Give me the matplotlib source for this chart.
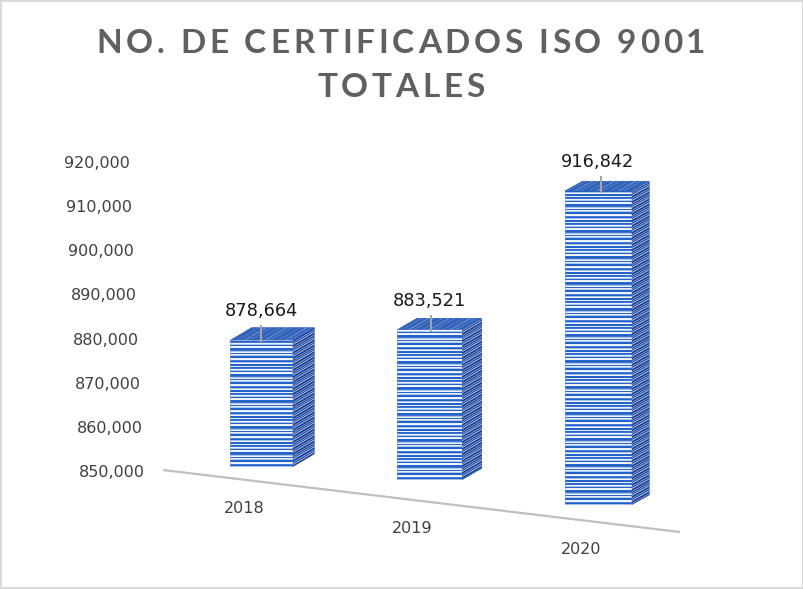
import matplotlib
matplotlib.use('Agg')
import matplotlib.pyplot as plt
from matplotlib.patches import Polygon, Rectangle
from matplotlib.collections import LineCollection
from matplotlib import font_manager
from matplotlib.font_manager import FontProperties
from matplotlib.ft2font import FT2Font
from matplotlib.transforms import ScaledTranslation

# data
years = ['2018', '2019', '2020']
certs = [878664, 883521, 916842]
y_ticks = [850000, 860000, 870000, 880000, 890000, 900000, 910000, 920000]
title_lines = ['NO. DE CERTIFICADOS ISO 9001', 'TOTALES']

W, H = 804, 589
PX_X = 168.5            # pixels per category step
PX_Y = 309 / 70000      # pixels per certificate on the value axis
BASE = 850000

fig = plt.figure(figsize=(W / 100, H / 100), dpi=100)
ax = fig.add_axes([150 / W, 0, 1 - 150 / W, 1])

# stripe textures, like the excel fill (one letter = one pixel row)
front_pal = {'D': '#1E60C6', 'M': '#3D78D6', 'L': '#AFC6EE', 'W': '#F2F6FC'}
front_pat = 'DDWLDMWWDDLWDWLMDDWWDLWMDW'
side_pal = {'N': '#14398C', 'D': '#1D4DA8', 'L': '#8FA5CF', 'W': '#C9D2E6'}
side_pat = 'NLNDWNLDNWDL'
top_pal = {'A': '#2C5BB3', 'B': '#3A69C0', 'C': '#5A86D0', 'E': '#7E9FDA'}
top_pat = 'ABABCABEABAC'


def textured(verts, base, pal, pat, slope=0.0, z=3):
    # slope: pixel rise per pixel to the right
    xs, ys = zip(*verts)
    x0, x1, y0, y1 = min(xs), max(xs), min(ys), max(ys)
    wpx = (x1 - x0) * PX_X
    hpx = (y1 - y0) * PX_Y
    poly = Polygon(verts, closed=True, fc=base, ec='none', zorder=z)
    ax.add_patch(poly)
    segs, cols = [], []
    k = 0
    start = -int(abs(slope) * wpx) - 2
    for off in range(start, int(hpx) + 3):
        ya = y0 + (off + 0.5) / PX_Y
        yb = ya + slope * wpx / PX_Y
        segs.append([(x0, ya), (x1, yb)])
        cols.append(pal[pat[k % len(pat)]])
        k += 1
    lc = LineCollection(segs, colors=cols, linewidths=0.78, zorder=z + 0.1)
    ax.add_collection(lc)
    lc.set_clip_path(poly)


def floor_px(xpx):
    return 470 + (532 - 470) / (680 - 163) * (xpx - 163)


def to_dy(ypx):
    return BASE + (471 - ypx) / PX_Y


# floor line
fx = [(163 - 261) / PX_X, (680 - 261) / PX_X]
ax.plot(fx, [to_dy(floor_px(163)), to_dy(floor_px(680))], color='#BFBFBF', lw=1.6,
        solid_capstyle='butt', zorder=1)

for i, v in enumerate(certs):
    bottom_px = 467 + 13 * i + 6 * i * (i - 1)
    y0 = to_dy(bottom_px)
    y1 = y0 + (v - BASE) * (1 + 0.016 * i * i)
    hw = (63 + 2 * i) / 2 / PX_X
    ddx = (22 - 2 * i) / PX_X
    ddy = (13 - 1.5 * i) / PX_Y
    rise = (13 - 1.5 * i) / (22 - 2 * i)
    xl, xr = i - hw, i + hw
    textured([(xl, y0), (xr, y0), (xr, y1), (xl, y1)], '#7FA3E3', front_pal, front_pat)
    textured([(xr, y0), (xr + ddx, y0 + ddy), (xr + ddx, y1 + ddy), (xr, y1)],
             '#1D4DA8', side_pal, side_pat, slope=rise)
    textured([(xl, y1), (xr, y1), (xr + ddx, y1 + ddy), (xl + ddx, y1 + ddy)],
             '#3A69C0', top_pal, top_pat, slope=rise)
    # leader line + value label
    lx = i + 1.5 * i / PX_X
    ax.plot([lx, lx], [y1 - 1 / PX_Y, y1 + 14 / PX_Y], color='#A6A6A6', lw=1.4, zorder=5)
    ax.text(i, y1 + 29 / PX_Y, f'{v:,}', ha='center', va='center', fontsize=12.8,
            color='#1A1A1A', zorder=6)
    # category label along the floor
    cx = 261 + PX_X * i - 17
    ax.text((cx - 261) / PX_X, to_dy(floor_px(cx) + 29), years[i], ha='center', va='center',
            fontsize=11.5, color='#404040')

ax.set_xlim((150 - 261) / PX_X, (W - 261) / PX_X)
ax.set_ylim(BASE - (H - 471) / PX_Y, BASE + 471 / PX_Y)
for s in ax.spines.values():
    s.set_visible(False)
ax.set_xticks([])
ax.set_yticks(y_ticks)
ax.set_yticklabels([f'{v:,}' for v in y_ticks], fontsize=11.5, color='#404040')
ax.tick_params(axis='y', length=0, pad=0)
# the 3d view pushes lower labels to the right
for v, lab in zip(y_ticks, ax.get_yticklabels()):
    right = 130 + 15 * (920000 - v) / 70000
    lab.set_transform(lab.get_transform() +
                      ScaledTranslation(-(150 - right) / 100, 0, fig.dpi_scale_trans))

# title with letter spacing
prop = FontProperties(family='Lato', weight='bold', size=24)
ft = FT2Font(font_manager.findfont(prop))
ft.set_size(24, 100)


def advances(s):
    return [ft.load_char(ord(ch)).linearHoriAdvance / 65536 for ch in s]


adv1 = advances(title_lines[0])
track = (606 - sum(adv1[:-1]) - adv1[-1] * 0.85) / (len(adv1) - 1)
for line, base_y in zip(title_lines, [53, 97]):
    adv = advances(line)
    total = sum(adv) + track * (len(adv) - 1)
    x = 401 - total / 2
    for ch, a in zip(line, adv):
        fig.text(x / W, 1 - base_y / H, ch, fontproperties=prop, color='#606060',
                 ha='left', va='baseline')
        x += a + track

fig.patches.append(Rectangle((0, 0), 1, 1, transform=fig.transFigure, fill=False,
                             ec='#D9D9D9', lw=3))

fig.savefig('out.png', dpi=100)
